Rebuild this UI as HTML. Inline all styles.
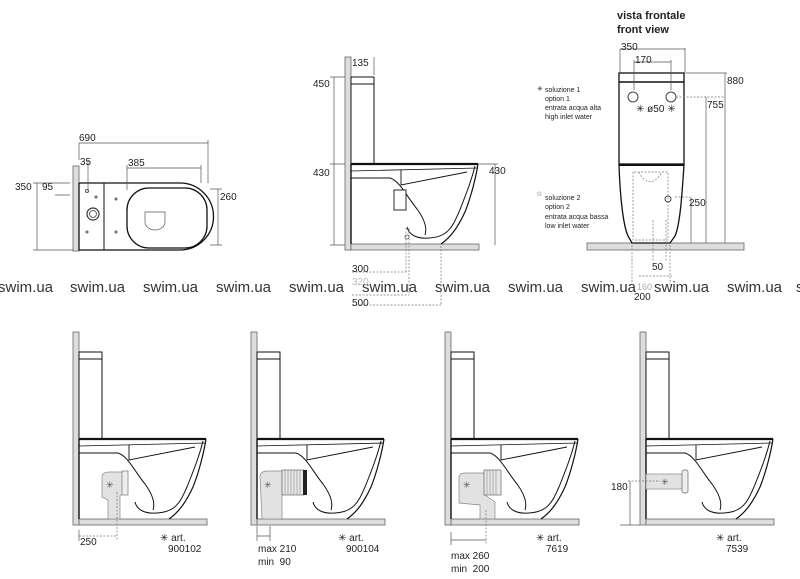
<!DOCTYPE html>
<html><head><meta charset="utf-8"><style>
html,body{margin:0;padding:0;background:#fff;}
svg{display:block;font-family:"Liberation Sans",Arial,sans-serif;}
.t{font-size:10px;fill:#222;}
.s{font-size:7px;fill:#222;}
.w{font-size:15px;fill:#333;}
.d{stroke:#555;stroke-width:0.7;fill:none;}
.dd{stroke:#777;stroke-width:0.7;fill:none;stroke-dasharray:2,1.5;}
</style></head><body>
<svg width="800" height="579" viewBox="0 0 800 579" xmlns="http://www.w3.org/2000/svg">
<defs>
<g id="side">
  <rect x="0" y="0" width="6" height="193" fill="#ddd" stroke="#666" stroke-width="0.8"/>
  <rect x="6" y="187" width="128" height="6" fill="#ddd" stroke="#666" stroke-width="0.8"/>
  <rect x="6" y="20" width="23" height="7" fill="#fff" stroke="#111" stroke-width="1"/>
  <rect x="6" y="27" width="23" height="80" fill="#fff" stroke="#111" stroke-width="1"/>
  <path d="M6,107 L133,107" stroke="#111" stroke-width="2.2"/>
  <path d="M6,107 L6,187" stroke="#111" stroke-width="1.4"/>
  <path d="M6,121 L45,121 C55,124 62,140 72,152 C80,163 82,172 80,178" stroke="#111" stroke-width="1" fill="none"/>
  <path d="M6,114 L133,111" stroke="#111" stroke-width="0.8" fill="none"/>
  <path d="M56,113 L56,128 L122,115" stroke="#111" stroke-width="0.9" fill="none"/>
  <path d="M133,107 C131,120 126,140 120,155 C113,170 106,180 96,187" stroke="#111" stroke-width="1.2" fill="none"/>
  <path d="M130,109 C126,125 120,140 114,155 C108,168 104,180 84,181 C72,182 64,178 62,170" stroke="#111" stroke-width="1" fill="none"/>
</g>
</defs>

<!-- watermark row -->
<g class="w">
<text x="-2" y="292">swim.ua</text><text x="70" y="292">swim.ua</text><text x="143" y="292">swim.ua</text>
<text x="216" y="292">swim.ua</text><text x="289" y="292">swim.ua</text><text x="362" y="292">swim.ua</text>
<text x="435" y="292">swim.ua</text><text x="508" y="292">swim.ua</text><text x="581" y="292">swim.ua</text>
<text x="654" y="292">swim.ua</text><text x="727" y="292">swim.ua</text><text x="796" y="292">s</text>
</g>

<!-- PLAN VIEW -->
<rect x="73" y="166" width="6" height="85" fill="#ddd" stroke="#666" stroke-width="0.8"/>
<path d="M79,183 L180,183 A32,32 0 0 1 180,250 L79,250 Z" fill="#fff" stroke="#111" stroke-width="1.3"/>
<line x1="104" y1="183" x2="104" y2="250" stroke="#111" stroke-width="1"/>
<rect x="127" y="188" width="80" height="60" rx="22" fill="#fff" stroke="#111" stroke-width="1.3"/>
<path d="M145,212 L165,212 L165,222 A10,8 0 0 1 145,222 Z" fill="none" stroke="#555" stroke-width="0.7"/>
<circle cx="93" cy="214" r="6" fill="#fff" stroke="#333" stroke-width="1.2"/><circle cx="93" cy="214" r="3.5" fill="none" stroke="#666"/>
<circle cx="87" cy="191" r="1.5" fill="none" stroke="#555"/><circle cx="96" cy="197" r="1" fill="none" stroke="#555"/>
<circle cx="87" cy="232" r="1" fill="none" stroke="#555"/><circle cx="116" cy="199" r="1" fill="none" stroke="#555"/><circle cx="116" cy="232" r="1" fill="none" stroke="#555"/>
<path class="d" d="M79,143 L208,143 M79,143 V160 M208,140 V183 M127,168 L201,168 M127,165 V190 M201,165 V183 M88,160 V190 M33,183 H70 M33,250 H73 M37,183 V250 M55,183 H70 M55,195 H70 M210,189 H222 M210,245 H222 M218,189 V245"/>
<text class="t" x="79" y="141">690</text><text class="t" x="80" y="165">35</text><text class="t" x="128" y="166">385</text>
<text class="t" x="15" y="190">350</text><text class="t" x="42" y="190">95</text><text class="t" x="220" y="200">260</text>

<!-- TOP SIDE VIEW -->
<use href="#side" x="345" y="57"/>
<path d="M334,248 C336,240 344,236 345,230" fill="none"/>
<rect x="394" y="190" width="12" height="20" fill="#fff" stroke="#111" stroke-width="0.9"/>
<path class="d" d="M330,77 H345 M334,77 V245 M330,164 H345 M330,245 H345 M374,57 V75 M478,164 H498 M495,164 V245"/>
<path class="dd" d="M406,228 V272 M352,272 H406 M409,228 V295 M352,295 H409 M441,246 V305 M352,305 H441"/>
<circle cx="407" cy="237" r="2" fill="none" stroke="#777"/>
<text class="t" x="352" y="66">135</text><text class="t" x="313" y="87">450</text><text class="t" x="313" y="176">430</text><text class="t" x="489" y="174">430</text>
<text class="t" x="352" y="272">300</text><text x="352" y="285" style="font-size:10px;fill:#bbb">320</text><text class="t" x="352" y="306">500</text>

<!-- FRONT VIEW -->
<text x="617" y="19" style="font-size:11px;font-weight:bold;fill:#222">vista frontale</text>
<text x="617" y="33" style="font-size:11px;font-weight:bold;fill:#222">front view</text>
<rect x="587" y="243" width="157" height="7" fill="#ddd" stroke="#666" stroke-width="0.8"/>
<rect x="619" y="73" width="65" height="91" fill="#fff" stroke="#111" stroke-width="1.3"/>
<line x1="619" y1="82" x2="684" y2="82" stroke="#111" stroke-width="1.5"/>
<path d="M619,165 L684,165 C682,195 680,225 675,236 L670,243 L632,243 L628,236 C623,225 620,195 619,165 Z" fill="#fff" stroke="#111" stroke-width="1.3"/>
<line x1="619" y1="165" x2="684" y2="165" stroke="#111" stroke-width="2"/>
<circle cx="633" cy="97" r="5" fill="none" stroke="#444"/><circle cx="671" cy="97" r="5" fill="none" stroke="#444"/>
<path class="dd" d="M633,172 L633,240 L668,240 L668,172 Z M639,172 C645,185 655,185 662,172 M676,97 H725 M675,197 H690 M653,220 V262 M666,220 V262 M632,245 V285 M670,245 V285 M639,276 H672"/>
<path class="d" d="M620,49 V73 M685,48 V73 M620,49 H685 M634,62 H671 M634,60 V90 M671,60 V90 M686,73 H727 M706,97 V243 M725,73 V243 M691,197 V243"/>
<text class="t" x="621" y="50">350</text><text class="t" x="635" y="63">170</text><text class="t" x="727" y="84">880</text>
<text class="t" x="707" y="108">755</text><text class="t" x="689" y="206">250</text><text class="t" x="652" y="270">50</text>
<text x="637" y="290" style="font-size:9px;fill:#aaa">160</text><text class="t" x="634" y="300">200</text>
<text class="t" x="636" y="112">✳ ø50 ✳</text>
<circle cx="668" cy="199" r="3" fill="none" stroke="#444"/>
<text class="s" x="537" y="91">✳</text>
<text class="s" x="545" y="92">soluzione 1</text><text class="s" x="545" y="101">option 1</text>
<text class="s" x="545" y="110">entrata acqua alta</text><text class="s" x="545" y="119">high inlet water</text>
<text class="s" x="536" y="196">☆</text>
<text class="s" x="545" y="200">soluzione 2</text><text class="s" x="545" y="209">option 2</text>
<text class="s" x="545" y="219">entrata acqua bassa</text><text class="s" x="545" y="228">low inlet water</text>

<!-- BOTTOM PANELS -->
<use href="#side" x="73" y="332"/>
<use href="#side" x="251" y="332"/>
<use href="#side" x="445" y="332"/>
<use href="#side" x="640" y="332"/>

<!-- panel 1 fitting -->
<path d="M102,477 Q102,472 110,472 L125,472 L125,492 L120,496 L120,519 L108,519 L108,500 L102,497 Z" fill="#e2e2e2" stroke="#888" stroke-width="0.7"/>
<rect x="122" y="471" width="6" height="24" fill="#eee" stroke="#777" stroke-width="0.7"/>
<text x="106" y="488" style="font-size:9px;fill:#555">✳</text>
<path class="dd" d="M117,492 V541 M79,536 H117"/><path class="d" d="M79,530 V541"/>
<text class="t" x="80" y="545">250</text>
<text class="t" x="160" y="541">✳ art.</text><text class="t" x="168" y="552">900102</text>

<!-- panel 2 fitting -->
<path d="M260,477 Q260,471 268,471 L282,471 L282,519 L262,519 Z" fill="#e2e2e2" stroke="#888" stroke-width="0.7"/>
<rect x="282" y="470" width="22" height="25" fill="#e8e8e8" stroke="#666" stroke-width="0.7"/>
<path d="M285,470 V495 M288,470 V495 M291,470 V495 M294,470 V495 M297,470 V495 M300,470 V495" stroke="#888" stroke-width="0.6"/>
<rect x="303" y="470" width="4" height="25" fill="#222"/>
<text x="264" y="488" style="font-size:9px;fill:#555">✳</text>
<path class="d" d="M257,526 V541 M270,526 V541 M257,536 H270"/>
<text class="t" x="258" y="552">max 210</text><text class="t" x="258" y="565">min &#160;90</text>
<text class="t" x="338" y="541">✳ art.</text><text class="t" x="346" y="552">900104</text>

<!-- panel 3 fitting -->
<path d="M459,477 Q459,473 466,473 L485,473 L485,495 L495,502 L495,519 L480,519 L480,505 L459,503 Z" fill="#e2e2e2" stroke="#888" stroke-width="0.7"/>
<rect x="484" y="470" width="17" height="25" fill="#e8e8e8" stroke="#666" stroke-width="0.7"/>
<path d="M487,470 V495 M490,470 V495 M493,470 V495 M496,470 V495" stroke="#888" stroke-width="0.6"/>
<text x="463" y="488" style="font-size:9px;fill:#555">✳</text>
<path class="dd" d="M486,510 V545"/><path class="d" d="M451,532 V545 M451,540 H486"/>
<text class="t" x="451" y="559">max 260</text><text class="t" x="451" y="572">min &#160;200</text>
<text class="t" x="536" y="541">✳ art.</text><text class="t" x="546" y="552">7619</text>

<!-- panel 4 fitting -->
<rect x="646" y="474" width="37" height="15" fill="#e2e2e2" stroke="#888" stroke-width="0.7"/>
<rect x="682" y="470" width="6" height="23" rx="2" fill="#eee" stroke="#666" stroke-width="0.7"/>
<text x="661" y="485" style="font-size:9px;fill:#555">✳</text>
<path class="dd" d="M628,481 H660"/><path class="d" d="M630,481 V525 M620,525 H640"/>
<text class="t" x="611" y="490">180</text>
<text class="t" x="716" y="541">✳ art.</text><text class="t" x="726" y="552">7539</text>
</svg>
</body></html>
